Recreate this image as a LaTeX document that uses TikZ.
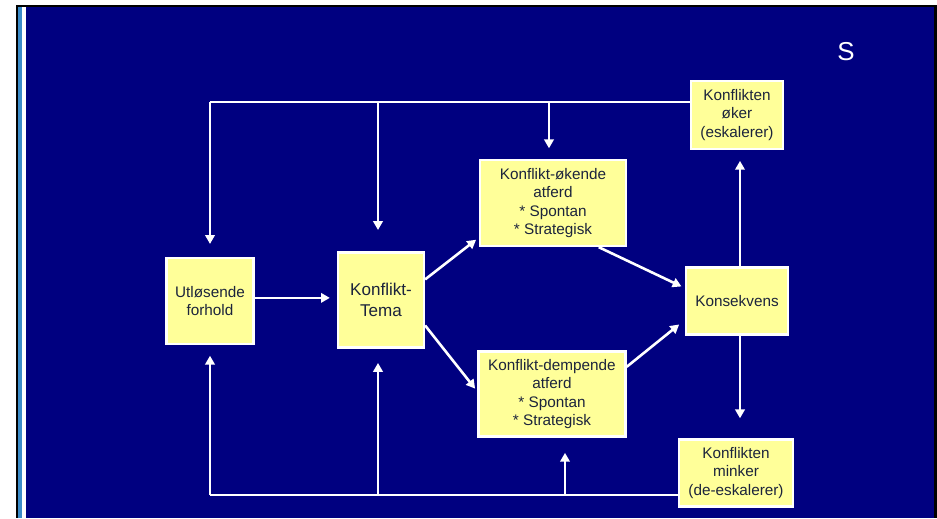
\documentclass[tikz,border=0pt]{standalone}
\usepackage{fontspec}
\setmainfont{Liberation Sans}
\usepackage{tikz}
\usetikzlibrary{arrows.meta}
\definecolor{bakgrunn}{RGB}{0,0,128}
\definecolor{boksgul}{RGB}{255,255,153}
\definecolor{tekstfarge}{RGB}{28,36,60}
\definecolor{stripe}{RGB}{60,140,200}
\tikzset {
boks/.style={shape=rectangle,draw=white,line width=2pt,fill=boksgul,text=tekstfarge,align=center,inner sep=2pt,font=\fontsize{13}{15.8}\selectfont},
linje/.style={draw=white,line width=2.2pt},
pil/.style={linje,->,shorten >=9pt}
}

\begin{document}
\begin{tikzpicture}
[x=0.85pt,y=-0.85pt,>={Triangle[length=7.5pt,width=8pt]}]
% ramme og bakgrunn
\useasboundingbox (0,0) rectangle (937,518);
\fill[white] (0,0) rectangle (937,518);
\fill[black] (16,5) rectangle (937,518);
\fill[bakgrunn] (18.3,7.3) rectangle (933.5,518);
\fill[stripe] (18.3,7.3) rectangle (21.7,518);
\fill[white] (21.7,7.3) rectangle (26,518);

\node[text=white,font=\fontsize{22}{26}\selectfont] (s) at (846,52) {S};

\node[boks,minimum width=74pt,minimum height=73pt] (utlosende) at (210,301) {Utløsende\\forhold};
\node[boks,minimum width=73pt,minimum height=81pt,font=\fontsize{14.5}{17.8}\selectfont] (tema) at (381,300) {Konflikt-\\Tema};
\node[boks,minimum width=124pt,minimum height=73pt] (okende) at (553,203) {Konflikt-økende\\atferd\\* Spontan\\* Strategisk};
\node[boks,minimum width=125pt,minimum height=72pt] (dempende) at (552,394) {Konflikt-dempende\\atferd\\* Spontan\\* Strategisk};
\node[boks,minimum width=87pt,minimum height=57pt] (konsekvens) at (737,301) {Konsekvens};
\node[boks,minimum width=78pt,minimum height=58pt] (oker) at (737,115) {Konflikten\\øker\\(eskalerer)};
\node[boks,minimum width=97pt,minimum height=57pt] (minker) at (736,473) {Konflikten\\minker\\(de-eskalerer)};

\coordinate (topp venstre) at (210,102);
\coordinate (topp midt) at (378,102);
\coordinate (topp hoyre) at (549,102);
\coordinate (bunn venstre) at (210,495);
\coordinate (bunn midt) at (378,495);
\coordinate (bunn hoyre) at (565,495);
\coordinate (kons x) at (740,301);

\draw[pil,shorten >=6pt] (utlosende.4) -- (utlosende.4 -| tema.west);
\draw[pil,shorten >=3pt] (tema.25) -- (okende.205);
\draw[pil,shorten >=3pt] (tema.-30) -- (dempende.178);
\draw[pil,shorten >=3pt] (okende.-44) -- (konsekvens.166);
\draw[pil,shorten >=6pt] (dempende.20) -- (konsekvens.200);
\draw[pil] (kons x |- konsekvens.north) -- (kons x |- oker.south);
\draw[pil,shorten >=17pt] (kons x |- konsekvens.south) -- (kons x |- minker.north);

\draw[linje] (oker.west |- topp venstre) -- (topp venstre);
\draw[pil,shorten >=11pt] (topp venstre) -- (utlosende.north);
\draw[pil,shorten >=18pt] (topp midt) -- (topp midt |- tema.north);
\draw[pil] (topp hoyre) -- (topp hoyre |- okende.north);

\draw[linje] (minker.west |- bunn venstre) -- (bunn venstre);
\draw[pil] (bunn venstre) -- (utlosende.south);
\draw[pil,shorten >=12pt] (bunn midt) -- (bunn midt |- tema.south);
\draw[pil,shorten >=13pt] (bunn hoyre) -- (bunn hoyre |- dempende.south);
\end{tikzpicture}
\end{document}
